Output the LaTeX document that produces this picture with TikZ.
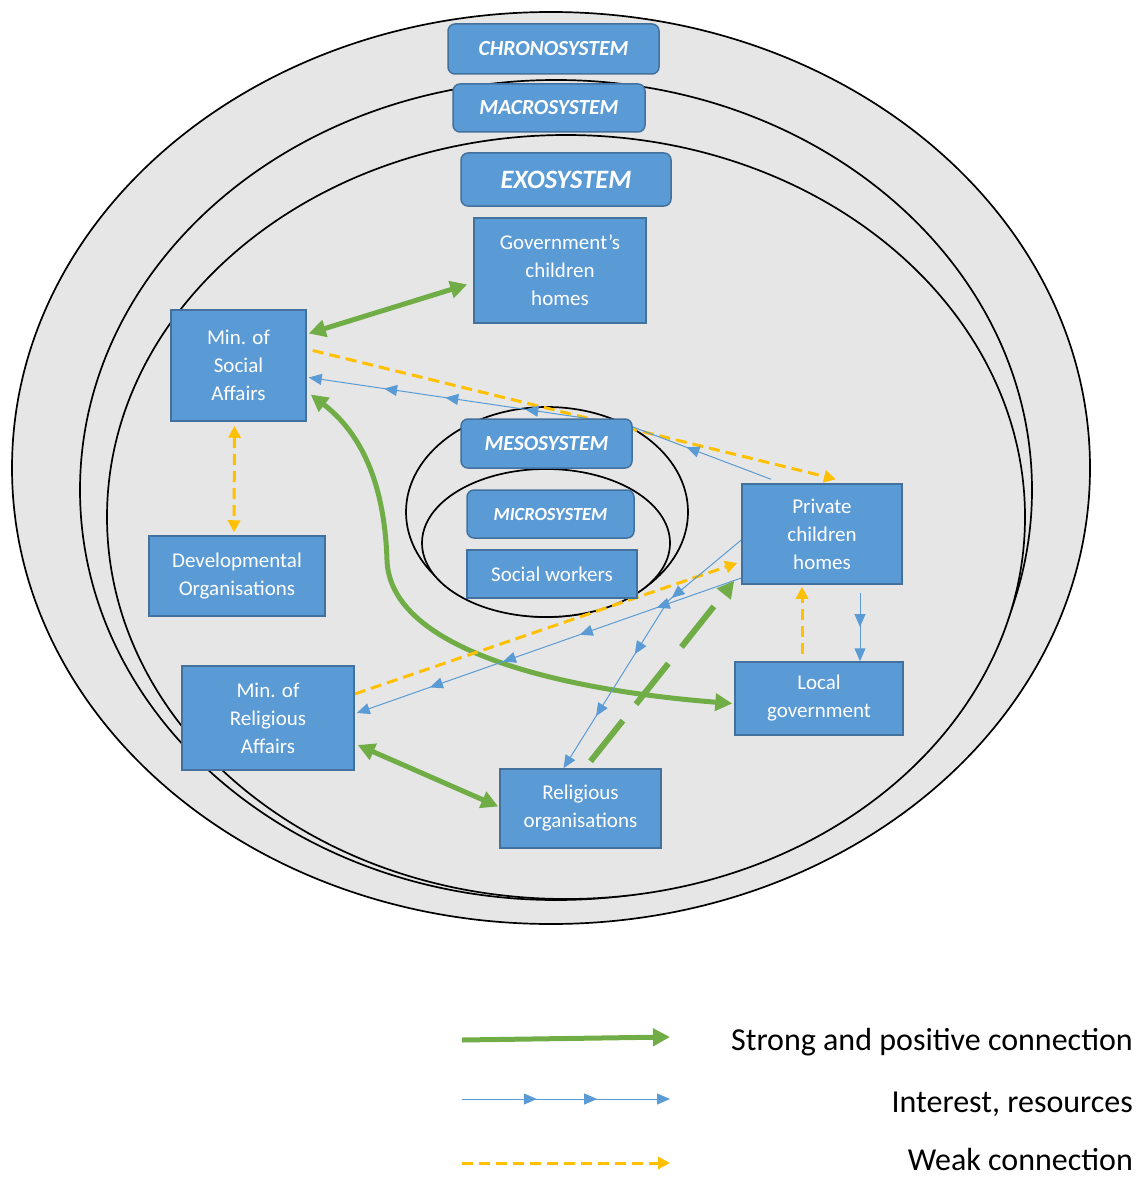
\documentclass[tikz,border=0pt]{standalone}
\usepackage{fontspec}
\setmainfont{Carlito}
\usepackage{tikz}
\usetikzlibrary{arrows.meta,decorations.markings}
\definecolor{boxblue}{HTML}{5B9BD5}
\definecolor{boxedge}{HTML}{41719C}
\definecolor{linegreen}{HTML}{70AD47}
\definecolor{lineyellow}{HTML}{FFC000}
\definecolor{ringgray}{HTML}{E6E6E6}
\pgfdeclarelayer{rings}
\pgfdeclarelayer{links}
\pgfsetlayers{rings,links,main}
\tikzset{
	gtip/.tip={Triangle[length=17pt,width=17pt]},
	ytip/.tip={Triangle[length=12pt,width=12pt]},
	btip/.tip={Triangle[length=13pt,width=11pt]}
}

\begin{document}
\begin{tikzpicture}[x=1pt, y=-1pt,
	ring/.style={draw=black, line width=1.7pt, fill=ringgray},
	sysbox/.style={draw=boxedge, line width=1.5pt, fill=boxblue, rounded corners=7pt, text=white, font=\bfseries\itshape\fontsize{21.5}{25}\selectfont, inner sep=0, align=center},
	orgbox/.style={draw=boxedge, line width=1.5pt, fill=boxblue, text=white, font=\fontsize{21}{28}\selectfont, inner sep=0, align=center},
	strong/.style={draw=linegreen, line width=5pt},
	weak/.style={draw=lineyellow, line width=3pt, dash pattern=on 11pt off 6pt},
	resource/.style={draw=boxblue, line width=1pt, -btip},
	midtip/.style={postaction={decorate, decoration={markings, mark=at position #1 with {\arrow[boxblue]{btip}}}}},
	legendtext/.style={font=\fontsize{32}{36}\selectfont, anchor=base east, inner sep=0}
]
\useasboundingbox (0,0) rectangle (1138,1177);

% system rings
\begin{pgfonlayer}{rings}
\draw[ring] (551,468) ellipse [x radius=539pt, y radius=456pt];
\draw[ring] (556,490) ellipse [x radius=476pt, y radius=410pt];
\draw[ring] (566,517) ellipse [x radius=459pt, y radius=382pt];
\draw[ring] (547,512) ellipse [x radius=141pt, y radius=105pt];
\draw[ring] (546,543) ellipse [x radius=124pt, y radius=74pt];
\end{pgfonlayer}

% boxes
\node[sysbox, minimum width=211pt, minimum height=50pt] (chrono) at (553.5,49) {CHRONOSYSTEM};
\node[sysbox, minimum width=192pt, minimum height=48pt] (macro) at (549,108) {MACROSYSTEM};
\node[sysbox, minimum width=210pt, minimum height=53pt, font=\bfseries\itshape\fontsize{26.5}{30}\selectfont] (exo) at (566,179.5) {EXOSYSTEM};
\node[orgbox, minimum width=172pt, minimum height=105pt] (govhomes) at (560,270.5) {Government’s\\children\\homes};
\node[orgbox, minimum width=135pt, minimum height=111pt] (minsoc) at (238.5,365.5) {Min. of\\Social\\Affairs};
\node[orgbox, minimum width=176pt, minimum height=80pt] (devorg) at (237,576) {Developmental\\Organisations};
\node[sysbox, minimum width=171pt, minimum height=49pt] (meso) at (546.5,443.5) {MESOSYSTEM};
\node[sysbox, minimum width=167pt, minimum height=48pt, font=\bfseries\itshape\fontsize{18.5}{22}\selectfont] (micro) at (550.5,514) {MICROSYSTEM};
\node[orgbox, minimum width=170pt, minimum height=48pt] (socwork) at (552,574) {Social workers};
\node[orgbox, minimum width=160pt, minimum height=100pt] (privhomes) at (822,534) {Private\\children\\homes};
\node[orgbox, minimum width=168pt, minimum height=73pt] (localgov) at (819,698.5) {Local\\government};
\node[orgbox, minimum width=172pt, minimum height=104pt] (minrel) at (268,718) {Min. of\\Religious\\Affairs};
\node[orgbox, minimum width=161pt, minimum height=79pt] (relorg) at (580.5,808.5) {Religious\\organisations};

% connections
\begin{pgfonlayer}{links}
\coordinate (bend1) at (625,424);
\coordinate (bend2) at (668,601);
\draw[strong, gtip-gtip] ([xshift=2pt,yshift=32pt]minsoc.east) -- ([xshift=-6pt,yshift=-14pt]govhomes.west);
\draw[weak, ytip-ytip] ([xshift=-4pt,yshift=-4pt]minsoc.south) -- ([xshift=-3pt,yshift=3pt]devorg.north);
\draw[strong, gtip-gtip] ([xshift=4pt,yshift=-29pt]minsoc.east) .. controls (370,440) and (385,500) .. (387,560)
	.. controls (390,650) and (560,690) .. ([xshift=-2pt,yshift=-5pt]localgov.west);
\draw[weak, -ytip] ([xshift=6pt,yshift=15pt]minsoc.east) -- ([xshift=14pt,yshift=4pt]privhomes.north);
\draw[resource, midtip=0.19, midtip=0.54, midtip=0.71, midtip=0.84] ([xshift=-51pt,yshift=4pt]privhomes.north) -- (bend1) -- ([xshift=2pt,yshift=-12pt]minsoc.east);
\draw[strong, gtip-gtip] ([xshift=3pt,yshift=-27pt]minrel.east) -- ([xshift=-1pt,yshift=2pt]relorg.west);
\draw[weak, -ytip] ([yshift=24pt]minrel.east) -- ([xshift=-4pt,yshift=-29pt]privhomes.west);
\draw[resource, midtip=0.22, midtip=0.42, midtip=0.62, midtip=0.81] ([yshift=-44pt]privhomes.west) -- ([xshift=2pt,yshift=5pt]minrel.east);
\draw[resource, midtip=0.31, midtip=0.54, midtip=0.79] ([yshift=-6pt]privhomes.west) -- (bend2) -- ([xshift=-17pt]relorg.north);
\draw[strong, line width=6pt, dash pattern=on 52pt off 21pt, -gtip] ([xshift=10pt,yshift=7pt]relorg.north) -- ([xshift=-7pt,yshift=4pt]privhomes.south west);
\draw[weak, -ytip] ([xshift=-17pt,yshift=7pt]localgov.north) -- ([xshift=-20pt,yshift=-2pt]privhomes.south);
\draw[resource, midtip=0.5] ([xshift=38pt,yshift=-8pt]privhomes.south) -- ([xshift=41pt]localgov.north);
\end{pgfonlayer}

% legend
\coordinate (ls1) at (462,1040);
\coordinate (ls2) at (670,1037);
\coordinate (lr1) at (462,1099);
\coordinate (lr2) at (670,1099);
\coordinate (lw1) at (462,1163);
\coordinate (lw2) at (670,1163);
\draw[strong, -gtip] (ls1) -- (ls2);
\draw[resource, midtip=0.36, midtip=0.65] (lr1) -- (lr2);
\draw[weak, -ytip] (lw1) -- (lw2);
\node[legendtext] (lstrong) at (1133,1050) {Strong and positive connection};
\node[legendtext] (lres) at (1133,1112) {Interest, resources};
\node[legendtext] (lweak) at (1133,1170) {Weak connection};
\end{tikzpicture}
\end{document}
